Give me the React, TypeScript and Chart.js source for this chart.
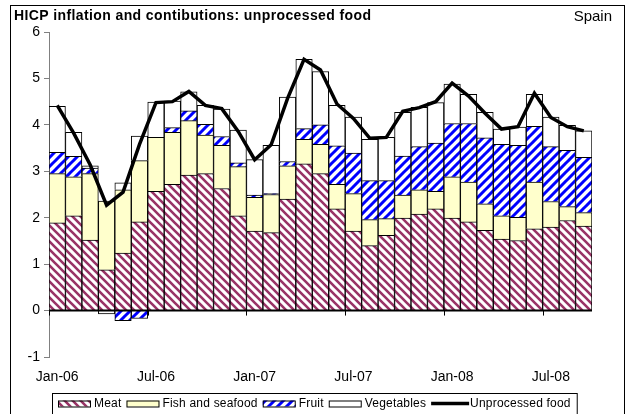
import { useEffect, useRef } from 'react';
import { Chart, registerables } from 'chart.js';

Chart.register(...registerables);

const months = [
  'Jan-06','Feb-06','Mar-06','Apr-06','May-06','Jun-06','Jul-06','Aug-06','Sep-06','Oct-06','Nov-06','Dec-06',
  'Jan-07','Feb-07','Mar-07','Apr-07','May-07','Jun-07','Jul-07','Aug-07','Sep-07','Oct-07','Nov-07','Dec-07',
  'Jan-08','Feb-08','Mar-08','Apr-08','May-08','Jun-08','Jul-08','Aug-08','Sep-08',
];

const meat = [1.89,2.04,1.52,0.88,1.24,1.91,2.57,2.72,2.92,2.95,2.63,2.04,1.71,1.68,2.40,3.16,2.95,2.19,1.71,1.40,1.62,1.99,2.08,2.19,1.99,1.91,1.73,1.54,1.51,1.76,1.80,1.94,1.82];
const fish = [1.06,0.84,1.43,1.48,1.36,1.32,1.16,1.12,1.17,0.83,0.93,1.06,0.73,0.82,0.72,0.53,0.63,0.53,0.81,0.56,0.36,0.50,0.52,0.38,0.89,0.86,0.57,0.50,0.50,1.01,0.55,0.30,0.29];
const fruit = [0.46,0.44,0.12,0,-0.22,-0.17,0,0.10,0.21,0.23,0.19,0.08,0.05,0.02,0.09,0.23,0.42,0.83,0.87,0.84,0.82,0.84,0.93,1.04,1.15,1.26,1.42,1.54,1.55,1.20,1.18,1.21,1.19];
const vegetables = [0.99,0.52,0.05,-0.07,0.15,0.53,0.76,0.57,0.41,0.41,0.59,0.71,0.76,1.04,1.39,1.49,1.15,0.87,0.78,0.89,0.93,0.94,0.85,0.87,0.85,0.63,0.55,0.33,0.39,0.69,0.64,0.54,0.57];
const unprocessed = [4.42,3.82,3.14,2.27,2.55,3.58,4.48,4.50,4.72,4.42,4.35,3.86,3.25,3.57,4.57,5.41,5.18,4.45,4.14,3.71,3.73,4.29,4.37,4.50,4.90,4.62,4.25,3.91,3.96,4.68,4.16,3.96,3.87];

const yTicks = [-1, 0, 1, 2, 3, 4, 5, 6];
const labelEvery = 6;

const TITLE = 'HICP inflation and contibutions: unprocessed food';
const COUNTRY = 'Spain';
const FONT = 'Arial, "Liberation Sans", sans-serif';

function makeStripe(color: string, size: number, lw: number, dir: 'down' | 'up') {
  const c = document.createElement('canvas');
  c.width = size;
  c.height = size;
  const g = c.getContext('2d')!;
  g.fillStyle = '#ffffff';
  g.fillRect(0, 0, size, size);
  g.strokeStyle = color;
  g.lineWidth = lw;
  g.beginPath();
  for (let k = -1; k <= 1; k++) {
    if (dir === 'down') {
      g.moveTo(k * size - 1, -1);
      g.lineTo(k * size + size + 1, size + 1);
    } else {
      g.moveTo(k * size - 1, size + 1);
      g.lineTo(k * size + size + 1, -1);
    }
  }
  g.stroke();
  return g.createPattern(c, 'repeat')!;
}

function fitText(ctx: any, text: string, target: number) {
  (ctx as any).letterSpacing = '0px';
  const w = ctx.measureText(text).width;
  const sp = Math.max(0, (target - w) / Math.max(1, text.length - 1));
  (ctx as any).letterSpacing = `${sp}px`;
}

export default function App() {
  const ref = useRef<HTMLCanvasElement | null>(null);

  useEffect(() => {
    document.body.style.margin = '0';
    const canvas = ref.current!;
    const meatPat = makeStripe('#993366', 8, 2.6, 'down');
    const fruitPat = makeStripe('#0000ff', 9, 3, 'up');

    const legendItems = [
      { label: 'Meat', fill: meatPat as any },
      { label: 'Fish and seafood', fill: '#ffffcc' as any },
      { label: 'Fruit', fill: fruitPat as any },
      { label: 'Vegetables', fill: '#ffffff' as any },
      { label: 'Unprocessed food', line: true },
    ];

    const decor = {
      id: 'decor',
      beforeDraw(chart: any) {
        const ctx = chart.ctx;
        ctx.save();
        ctx.fillStyle = '#ffffff';
        ctx.fillRect(0, 0, chart.width, chart.height);
        ctx.strokeStyle = '#000000';
        ctx.lineWidth = 1;
        ctx.strokeRect(10.5, 5.5, 614, chart.height + 10);
        ctx.restore();
      },
      afterDatasetsDraw(chart: any) {
        const ctx = chart.ctx;
        const x = chart.scales.x;
        const y = chart.scales.y;
        const a = chart.chartArea;
        const y0 = y.getPixelForValue(0);
        ctx.save();
        ctx.strokeStyle = '#000000';
        ctx.lineWidth = 2;
        ctx.beginPath();
        ctx.moveTo(a.left, y0);
        ctx.lineTo(a.right, y0);
        ctx.stroke();
        const half = (x.getPixelForValue(1) - x.getPixelForValue(0)) / 2;
        ctx.lineWidth = 1;
        ctx.beginPath();
        for (let i = 0; i < months.length; i += labelEvery) {
          const px = Math.round(x.getPixelForValue(i) - half) + 0.5;
          ctx.moveTo(px, y0);
          ctx.lineTo(px, y0 + 5);
        }
        ctx.stroke();
        ctx.restore();
      },
      afterDraw(chart: any) {
        const ctx = chart.ctx;
        ctx.save();
        ctx.fillStyle = '#000000';
        ctx.textBaseline = 'alphabetic';
        ctx.font = `bold 14px ${FONT}`;
        ctx.textAlign = 'left';
        fitText(ctx, TITLE, 357);
        ctx.fillText(TITLE, 14, 20);
        ctx.font = `15px ${FONT}`;
        (ctx as any).letterSpacing = '0px';
        ctx.textAlign = 'right';
        ctx.fillText(COUNTRY, 612, 21);

        // legend
        ctx.font = `12px ${FONT}`;
        (ctx as any).letterSpacing = '0.2px';
        ctx.textAlign = 'left';
        ctx.textBaseline = 'middle';
        const yc = 403.5;
        let cx = 58;
        for (const it of legendItems as any[]) {
          let tx;
          if (it.line) {
            ctx.strokeStyle = '#000000';
            ctx.lineWidth = 3.5;
            ctx.beginPath();
            ctx.moveTo(cx, yc);
            ctx.lineTo(cx + 38, yc);
            ctx.stroke();
            tx = cx + 39;
          } else {
            ctx.fillStyle = it.fill;
            ctx.fillRect(cx, yc - 3, 33, 6);
            ctx.strokeStyle = '#000000';
            ctx.lineWidth = 1;
            ctx.strokeRect(cx + 0.5, yc - 3 + 0.5, 32, 6);
            tx = cx + 36;
          }
          ctx.fillStyle = '#000000';
          ctx.fillText(it.label, tx, yc);
          cx = tx + ctx.measureText(it.label).width + 5;
        }
        ctx.strokeStyle = '#000000';
        ctx.lineWidth = 1;
        ctx.strokeRect(52.5, 393.5, cx + 1 - 52, 30);
        ctx.restore();
      },
    };

    const barCommon = {
      type: 'bar' as const,
      stack: 'bars',
      borderColor: '#000000',
      borderWidth: 1,
      barPercentage: 1,
      categoryPercentage: 1,
      order: 1,
    };

    const chart = new Chart(canvas, {
      type: 'bar',
      data: {
        labels: months,
        datasets: [
          {
            type: 'line' as const,
            label: 'Unprocessed food',
            data: unprocessed,
            stack: 'line',
            borderColor: '#000000',
            backgroundColor: '#000000',
            borderWidth: 3.5,
            pointRadius: 0,
            tension: 0,
            order: 0,
          } as any,
          { ...barCommon, label: 'Meat', data: meat, backgroundColor: meatPat },
          { ...barCommon, label: 'Fish and seafood', data: fish, backgroundColor: '#ffffcc' },
          { ...barCommon, label: 'Fruit', data: fruit, backgroundColor: fruitPat },
          { ...barCommon, label: 'Vegetables', data: vegetables, backgroundColor: '#ffffff' },
        ],
      },
      options: {
        responsive: false,
        animation: false,
        devicePixelRatio: 1,
        layout: { padding: { left: 0, right: 35, top: 32, bottom: 22 } },
        plugins: {
          legend: { display: false },
          title: { display: false },
          tooltip: { enabled: false },
        },
        scales: {
          x: {
            stacked: true,
            offset: true,
            border: { display: false },
            grid: { display: false, drawTicks: false },
            ticks: {
              autoSkip: false,
              maxRotation: 0,
              padding: 12,
              color: '#000000',
              font: { family: FONT, size: 14 },
              callback: (_v: any, i: number) => (i % labelEvery === 0 ? months[i] : ''),
            },
            afterFit: (s: any) => { s.height = 35; },
          },
          y: {
            stacked: true,
            min: yTicks[0],
            max: yTicks[yTicks.length - 1],
            border: { display: true, color: '#808080', width: 1 },
            grid: { drawOnChartArea: false, drawTicks: true, tickLength: 5, color: '#808080' },
            ticks: {
              stepSize: 1,
              padding: 4,
              color: '#000000',
              font: { family: FONT, size: 14 },
            },
            afterFit: (s: any) => { s.width = 49; },
          },
        },
      },
      plugins: [decor],
    });

    return () => chart.destroy();
  }, []);

  return (
    <div style={{ width: 627, height: 414, position: 'relative' }}>
      <canvas ref={ref} width={627} height={414} style={{ display: 'block' }} />
    </div>
  );
}
